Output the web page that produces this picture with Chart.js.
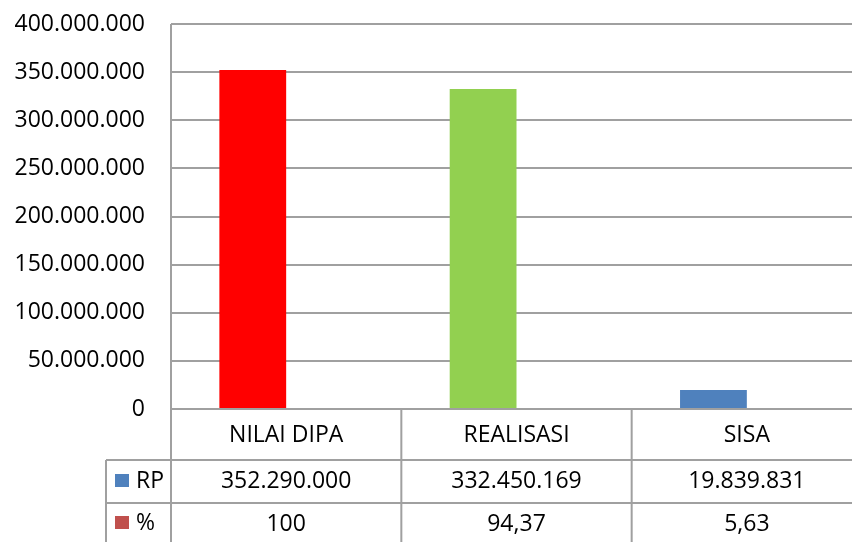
<!DOCTYPE html>
<html>
<head>
<meta charset="utf-8">
<title>NILAI DIPA / REALISASI / SISA</title>
<script src="https://cdn.jsdelivr.net/npm/chart.js@4"></script>
<style>
  html,body{margin:0;padding:0;background:#fff;}
  .wrap{width:852px;height:542px;overflow:hidden;position:relative;}
  canvas{display:block;}
</style>
</head>
<body>
<div class="wrap"><canvas id="c" width="862" height="542"></canvas></div>
<script>
// values (data table under the chart)
const categories = ['NILAI DIPA', 'REALISASI', 'SISA'];
const rpValues = [352290000, 332450169, 19839831];
const pctValues = [100, 94.37, 5.63];
const rpColors = ['#ff0000', '#92d050', '#4f81bd'];
const seriesNames = ['RP', '%'];
const seriesSwatch = ['#4f81bd', '#c0504d'];
const yMax = 400000000;
const yStep = 50000000;

const FONT = '"Open Sans", "Liberation Sans", sans-serif';
const FSIZE = 23;
const LINE = '#a0a0a0';

const dots = (n) => String(Math.round(n)).replace(/\B(?=(\d{3})+(?!\d))/g, '.');
const comma = (n) => String(n).replace('.', ',');

// draws the Excel style data table under the plot, using the x scale for columns
const dataTable = {
  id: 'dataTable',
  afterDraw(chart) {
    const { ctx, chartArea: a, scales: { x } } = chart;
    const H = chart.height;
    const rowY = [a.bottom, 460, 503, H];
    const legendLeft = 106;
    const half = (x.getPixelForValue(1) - x.getPixelForValue(0)) / 2;
    ctx.save();
    ctx.strokeStyle = LINE;
    ctx.lineWidth = 2;
    ctx.beginPath();
    // left axis line, down through the table
    ctx.moveTo(a.left, a.top); ctx.lineTo(a.left, H);
    // row lines
    ctx.moveTo(a.left, rowY[0]); ctx.lineTo(a.right, rowY[0]);
    ctx.moveTo(legendLeft, rowY[1]); ctx.lineTo(a.right, rowY[1]);
    ctx.moveTo(legendLeft, rowY[2]); ctx.lineTo(a.right, rowY[2]);
    ctx.moveTo(legendLeft, rowY[1]); ctx.lineTo(legendLeft, H);
    // column dividers
    categories.forEach((c, i) => {
      const bx = x.getPixelForValue(i) + half;
      ctx.moveTo(bx, rowY[0]); ctx.lineTo(bx, H);
    });
    ctx.stroke();

    ctx.fillStyle = '#000';
    ctx.font = FSIZE + 'px ' + FONT;
    ctx.textAlign = 'center';
    ctx.textBaseline = 'middle';
    const rows = [rpValues.map(dots), pctValues.map(comma)];
    categories.forEach((c, i) => {
      const cx = x.getPixelForValue(i);
      ctx.fillText(c, cx, 435);
      ctx.fillText(rows[0][i], cx, 481);
      ctx.fillText(rows[1][i], cx, 524);
    });
    // row headers with legend keys
    const midY = [481, 523];
    seriesNames.forEach((s, k) => {
      ctx.fillStyle = seriesSwatch[k];
      ctx.fillRect(115, midY[k] - 7, 14, 13);
      ctx.fillStyle = '#000';
      ctx.textAlign = 'left';
      ctx.fillText(s, 136, midY[k]);
    });
    ctx.restore();
  }
};

new Chart(document.getElementById('c'), {
  type: 'bar',
  data: {
    labels: categories,
    datasets: [
      { label: seriesNames[0], data: rpValues, backgroundColor: rpColors },
      { label: seriesNames[1], data: pctValues, backgroundColor: seriesSwatch[1] }
    ]
  },
  options: {
    responsive: false,
    animation: false,
    devicePixelRatio: 1,
    layout: { padding: { top: 24, right: 0, left: 0, bottom: 0 } },
    datasets: { bar: { categoryPercentage: 0.58, barPercentage: 1, borderWidth: 0 } },
    plugins: { legend: { display: false }, tooltip: { enabled: false } },
    scales: {
      x: {
        ticks: { display: false },
        grid: { display: false, drawTicks: false },
        border: { display: false },
        afterFit(s) { s.height = 133; }
      },
      y: {
        min: 0, max: yMax,
        ticks: {
          stepSize: yStep,
          padding: 26,
          color: '#000',
          font: { family: FONT, size: FSIZE },
          callback: (v) => dots(v)
        },
        grid: { color: LINE, lineWidth: 2, drawTicks: false },
        border: { display: false },
        afterFit(s) { s.width = 171; s.paddingTop = 0; s.paddingBottom = 0; }
      }
    }
  },
  plugins: [dataTable]
});
</script>
</body>
</html>
